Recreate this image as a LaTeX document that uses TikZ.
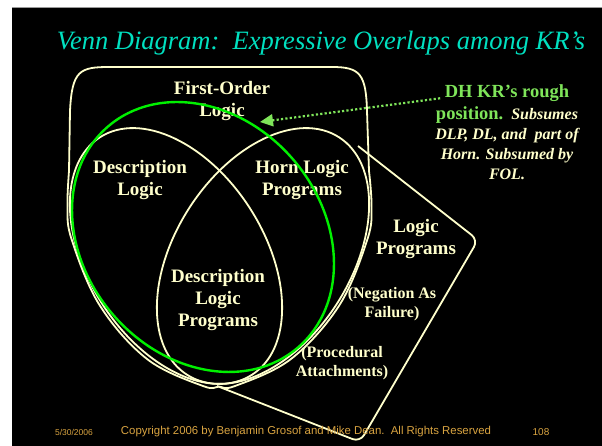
\documentclass[tikz,border=0pt]{standalone}
\usepackage{fontspec}
\setmainfont{Liberation Serif}
\setsansfont{Liberation Sans}
\usepackage{tikz}
\usetikzlibrary{arrows.meta,calc}
\definecolor{cream}{HTML}{FFFFCC}
\definecolor{aqua}{HTML}{00E0C0}
\definecolor{lime}{HTML}{00F000}
\definecolor{leaf}{HTML}{7FE55A}
\definecolor{gold}{HTML}{D9A441}
\definecolor{frame}{HTML}{9A9A9A}

\begin{document}
\begin{tikzpicture}[
  x=1pt, y=1pt,
  title/.style   = {font=\fontsize{26.5}{30}\selectfont\itshape, text=aqua, anchor=base},
  kr/.style      = {font=\fontsize{19}{22}\selectfont\bfseries, text=cream, align=center},
  aside/.style   = {font=\fontsize{16}{19}\selectfont\bfseries, text=cream, align=center},
  set/.style     = {draw=cream, line width=1.8pt},
  dh/.style      = {draw=lime, line width=2.4pt},
  note/.style    = {font=\fontsize{16}{20}\selectfont\bfseries\itshape, text=cream,
                    align=center, inner sep=1pt},
  pointer/.style = {draw=leaf, line width=2.2pt, dash pattern=on 2.2pt off 2.2pt,
                    -{Triangle[length=13pt,width=12pt]}},
  foot/.style    = {font=\sffamily, text=gold},
]
\useasboundingbox (0,0) rectangle (602,446);

% ---- slide ------------------------------------------------------------
\fill[white] (0,0) rectangle (602,446);
\fill[black] (12,0) rectangle (602,438);
\draw[frame, line width=1pt] (12,438) -- (602,438);

\node[title] at (321,396) (title) {Venn Diagram:\ \ Expressive Overlaps among KR’s};

% ---- the sets ---------------------------------------------------------
% first-order logic, wrapped round the two ellipses
\draw[set] (69,275) -- (70,335) .. controls (72,376) and (80,379) .. (110,379)
  -- (332,379) .. controls (360,379) and (366,372) .. (367,335) -- (369,275)
  -- plot[smooth, tension=0.6] coordinates {(369,275) (371.5,240) (367.5,207) (339.5,141)
       (291,87) (235,60) (219,59.5) (203,60) (147,87) (99.5,141) (71.5,207) (67.5,240) (69,275)};
% logic programs
\draw[set, rounded corners=8pt] (358,300) -- (478,206) -- (360,4) -- (217,60);
% description logic and horn logic programs
\draw[set, rotate around={-57.4:(176,190)}] (176,190) ellipse [x radius=141, y radius=88];
\draw[set, rotate around={57.4:(263,190)}] (263,190) ellipse [x radius=141, y radius=88];

% ---- labels -----------------------------------------------------------
\node[kr] at (222,345) (fol)  {First-Order\\Logic};
\node[kr] at (140,266) (dl)   {Description\\Logic};
\node[kr] at (302,266) (horn) {Horn Logic\\Programs};
\node[kr] at (218,146) (dlp)  {Description\\Logic\\Programs};
\node[kr] at (416,207) (lp)   {Logic\\Programs};
\node[aside] at (392,142) (naf)  {(Negation As\\Failure)};
\node[aside] at (342,83)  (proc) {(Procedural\\Attachments)};

% ---- DH KR's rough position --------------------------------------------
\draw[dh, rotate around={-49.3:(203,209)}] (203,209) ellipse [x radius=145.7, y radius=118.9];

\node[note] at (507,314) (note)
  {{\color{leaf}\fontsize{18.5}{22}\selectfont\upshape DH KR’s rough}\\[2pt]
   {\color{leaf}\fontsize{18.5}{22}\selectfont\upshape position.}\ \ Subsumes\\
   DLP, DL, and\ \ part of\\
   Horn. Subsumed by\\
   FOL.};
\coordinate (tip) at (260,324);
\draw[pointer] ($(note.north west)+(6,-15)$) -- (tip);

% ---- footer -----------------------------------------------------------
\node[foot, font=\sffamily\fontsize{8.5}{10}\selectfont] at (74,14) (date) {5/30/2006};
\node[foot, font=\sffamily\fontsize{11.4}{13}\selectfont] at (306,14) (copy)
  {Copyright 2006 by Benjamin Grosof and Mike Dean.\ \ All Rights Reserved};
\node[foot, font=\sffamily\fontsize{10}{12}\selectfont] at (541,14) (page) {108};

\end{tikzpicture}
\end{document}
